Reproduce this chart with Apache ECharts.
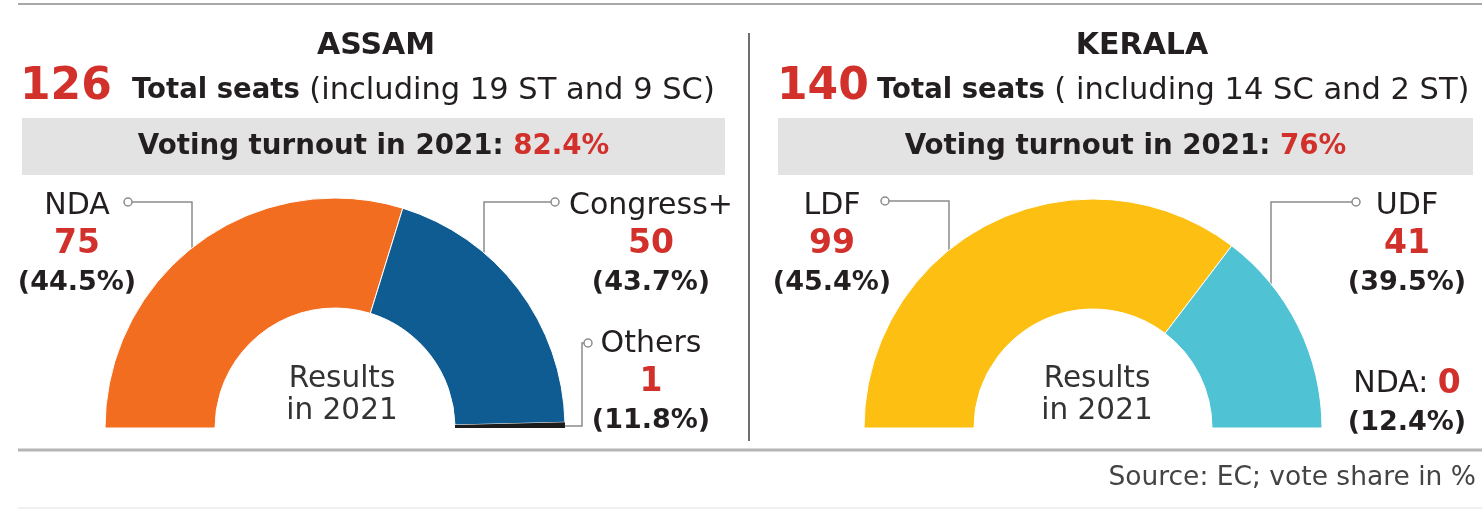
<!DOCTYPE html>
<html>
<head>
<meta charset="utf-8">
<script src="https://cdn.jsdelivr.net/npm/echarts@6/dist/echarts.min.js"></script>
<style>
  html, body { margin: 0; padding: 0; background: #fff; }
  #main { width: 1482px; height: 510px; }
</style>
</head>
<body>
<div id="main"></div>
<script>
// seats won (2021) and vote share
var assamParties = ['NDA', 'Congress+', 'Others'];
var assamSeats = [75, 50, 1];
var assamShare = [44.5, 43.7, 11.8];

var keralaParties = ['LDF', 'UDF', 'NDA'];
var keralaSeats = [99, 41, 0];
var keralaShare = [45.4, 39.5, 12.4];

var assamInfo = { name: 'ASSAM', total: 126, note: '(including 19 ST and 9 SC)', turnout: '82.4%' };
var keralaInfo = { name: 'KERALA', total: 140, note: '( including 14 SC and 2 ST)', turnout: '76%' };

var RED = '#d1302b';
var INK = '#231f20';
var FONT = '"DejaVu Sans", sans-serif';

var assamColors = ['#f26d1f', '#0f5c92', '#1c1c1c'];
var keralaColors = ['#fcbf12', '#4fc3d3', '#888'];

// geometry of the two half donuts
var pies = [
    { cx: 335, cy: 428, r0: 120, r: 230 },
    { cx: 1093, cy: 428, r0: 119, r: 229 }
];

// where each label block sits, and its leader (elbow x, dot)
var labelPos = [
    [
        { x: 77, y: 187, lineX: 192, dotX: 128, dotY: 202 },
        { x: 651, y: 187, lineX: 484, dotX: 555, dotY: 202 },
        { x: 651, y: 325, others: true, dotX: 588, dotY: 343 }
    ],
    [
        { x: 832, y: 187, lineX: 949, dotX: 885, dotY: 201 },
        { x: 1407, y: 365, noLine: true },
    ]
];
// keep UDF between LDF and NDA
labelPos[1].splice(1, 0, { x: 1407, y: 187, lineX: 1271, dotX: 1356, dotY: 202 });

function arcY(p, x) {
    var dx = x - p.cx;
    return p.cy - Math.sqrt(p.r * p.r - dx * dx);
}

function leader(si, di) {
    var p = pies[si], l = labelPos[si][di];
    if (l.noLine) return null;
    if (l.others) {
        var y0 = p.cy - 2;
        return [[p.cx + p.r, y0], [l.dotX - 6, y0], [l.dotX - 6, l.dotY], [l.dotX, l.dotY]];
    }
    return [[l.lineX, arcY(p, l.lineX)], [l.lineX, l.dotY], [l.dotX, l.dotY]];
}

var labelRich = {
    name: { fontFamily: FONT, fontSize: 30, color: INK, lineHeight: 38.5 },
    seat: { fontFamily: FONT, fontSize: 33, fontWeight: 'bold', color: RED, lineHeight: 38.5 },
    pct: { fontFamily: FONT, fontSize: 27, fontWeight: 'bold', color: INK, lineHeight: 38.5 }
};

function buildData(parties, seats, share, colors) {
    return parties.map(function(n, i) {
        return {
            name: n,
            value: seats[i],
            share: share[i],
            itemStyle: { color: colors[i], borderColor: '#fff', borderWidth: seats[i] < 5 ? 0 : 1 }
        };
    });
}

function pieSeries(si, data, inlineName) {
    var p = pies[si];
    return {
        type: 'pie',
        silent: true,
        center: [p.cx, p.cy],
        radius: [p.r0, p.r],
        startAngle: 180,
        endAngle: 0,
        clockwise: true,
        avoidLabelOverlap: false,
        animation: false,
        data: data,
        label: {
            show: true,
            position: 'outside',
            align: 'center',
            formatter: function(prm) {
                var pct = '{pct|(' + prm.data.share.toFixed(1) + '%)}';
                if (prm.name === inlineName) {
                    return '{name|' + prm.name + ': }{seat|' + prm.value + '}\n' + pct;
                }
                return '{name|' + prm.name + '}\n{seat|' + prm.value + '}\n' + pct;
            },
            rich: labelRich
        },
        labelLine: {
            show: true,
            lineStyle: { color: '#8c8c8c', width: 1.5 }
        },
        labelLayout: function(prm) {
            var l = labelPos[si][prm.dataIndex];
            var out = { x: l.x, y: l.y, align: 'center', verticalAlign: 'top' };
            var pts = leader(si, prm.dataIndex);
            if (pts) out.labelLinePoints = pts;
            return out;
        }
    };
}

var assamData = buildData(assamParties, assamSeats, assamShare, assamColors);
var keralaData = buildData(keralaParties, keralaSeats, keralaShare, keralaColors);
keralaData[2].labelLine = { show: false };

function headerGraphics(info, centerX, leftX, rest, box) {
    return [
        {
            type: 'text',
            style: { x: centerX, y: 46, text: info.name, align: 'center', verticalAlign: 'middle',
                fontFamily: FONT, fontSize: 30, fontWeight: 'bold', fill: INK }
        },
        {
            type: 'text',
            style: { x: leftX, y: 88, text: String(info.total), align: 'left', verticalAlign: 'middle',
                fontFamily: FONT, fontSize: 44, fontWeight: 'bold', fill: RED }
        },
        {
            type: 'text',
            style: {
                x: rest, y: 91, align: 'left', verticalAlign: 'middle',
                text: '{b|Total seats }{r|' + info.note + '}',
                rich: {
                    b: { fontFamily: FONT, fontSize: 27.5, fontWeight: 'bold', fill: INK },
                    r: { fontFamily: FONT, fontSize: 30.5, fill: INK }
                }
            }
        },
        {
            type: 'rect', z: -1,
            shape: { x: box[0], y: 118, width: box[1], height: 57 },
            style: { fill: '#e3e3e3' }
        },
        {
            type: 'text',
            style: {
                x: box[0] + box[1] / 2, y: 147, align: 'center', verticalAlign: 'middle',
                text: '{b|Voting turnout in 2021: }{t|' + info.turnout + '}',
                rich: {
                    b: { fontFamily: FONT, fontSize: 27.7, fontWeight: 'bold', fill: INK },
                    t: { fontFamily: FONT, fontSize: 27.7, fontWeight: 'bold', fill: RED }
                }
            }
        }
    ];
}

function centerText(x) {
    return {
        type: 'text',
        style: { x: x, y: 395, text: 'Results\nin 2021', align: 'center', verticalAlign: 'middle',
            lineHeight: 32, fontFamily: FONT, fontSize: 29.5, fill: '#333' }
    };
}

function dot(x, y) {
    return {
        type: 'circle', z: 100,
        shape: { cx: x, cy: y, r: 4 },
        style: { fill: '#fff', stroke: '#8c8c8c', lineWidth: 1.5 }
    };
}

var graphics = []
    .concat(headerGraphics(assamInfo, 376, 20, 132, [22, 703]))
    .concat(headerGraphics(keralaInfo, 1142, 777, 877, [778, 695]))
    .concat([
        centerText(342),
        centerText(1097),
        { type: 'line', shape: { x1: 18, y1: 4, x2: 1482, y2: 4 }, style: { stroke: '#a8a8a8', lineWidth: 2 } },
        { type: 'line', shape: { x1: 749, y1: 33, x2: 749, y2: 441 }, style: { stroke: '#6e6e6e', lineWidth: 2 } },
        { type: 'line', shape: { x1: 18, y1: 450, x2: 1482, y2: 450 }, style: { stroke: '#b5b5b5', lineWidth: 3 } },
        { type: 'line', shape: { x1: 18, y1: 508, x2: 1482, y2: 508 }, style: { stroke: '#e2e2e2', lineWidth: 1 } },
        {
            type: 'text',
            style: { x: 1476, y: 478, text: 'Source: EC; vote share in %', align: 'right', verticalAlign: 'middle',
                fontFamily: FONT, fontSize: 26.5, fill: '#444' }
        }
    ]);

labelPos.forEach(function(arr) {
    arr.forEach(function(l) { if (l.dotX) graphics.push(dot(l.dotX, l.dotY)); });
});

var chart = echarts.init(document.getElementById('main'));
var option = {
    backgroundColor: '#fff',
    animation: false,
    graphic: graphics,
    series: [
        pieSeries(0, assamData, null),
        pieSeries(1, keralaData, 'NDA')
    ]
};
chart.setOption(option);
</script>
</body>
</html>
